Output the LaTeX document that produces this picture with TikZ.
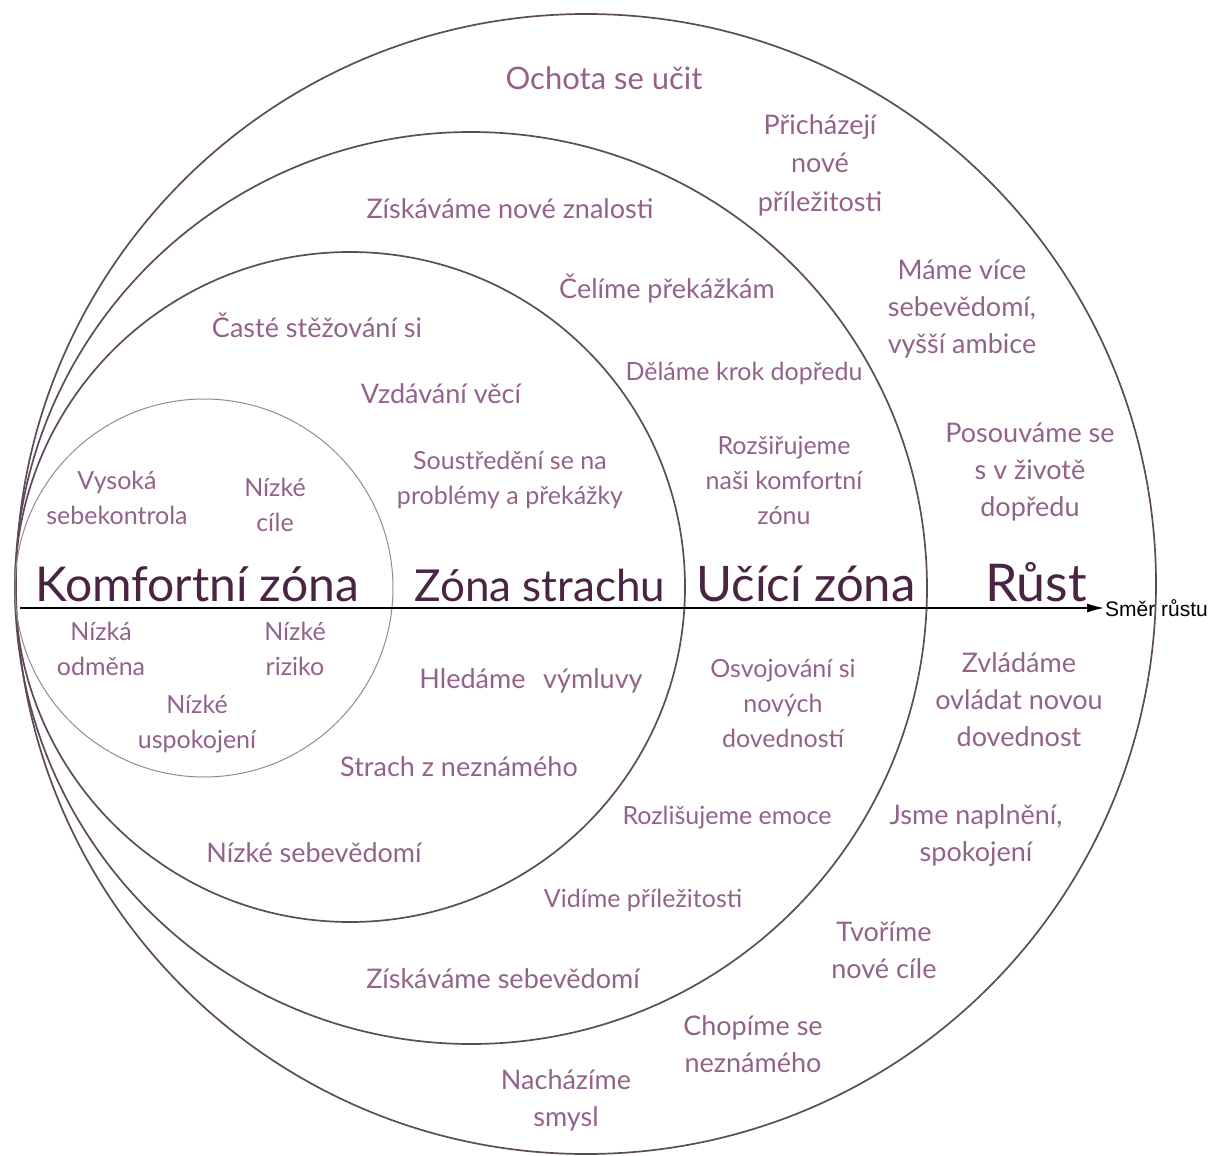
\documentclass[tikz,border=0pt]{standalone}
\usepackage{fontspec}
\setmainfont{Lato}
\newfontfamily\arialfont{Liberation Sans}
\usetikzlibrary{arrows.meta, positioning}
\definecolor{zmauve}{HTML}{93628B}
\definecolor{zdark}{HTML}{4A2443}
\definecolor{zring}{HTML}{5E4A5B}
\definecolor{zlight}{HTML}{958A92}

\begin{document}
\begin{tikzpicture}[
  x=1pt, y=-1pt,
  ring/.style={draw=zring, line width=1.7pt},
  innerring/.style={draw=zlight, line width=1pt},
  lbl/.style={text=zmauve, align=center, font=\fontsize{27}{37}\selectfont, inner sep=0pt},
  lblsmall/.style={lbl, font=\fontsize{25}{35}\selectfont},
  zone/.style={text=zdark, font=\fontsize{#1}{#1}\selectfont, inner sep=0pt, anchor=base},
  arrow/.style={-{Latex[length=17pt, width=9pt]}, line width=1.3pt, black},
]
\useasboundingbox (0,0) rectangle (1210,1156);

% zones, all touching on the left
\draw[ring] (586,584) circle (570pt);
\draw[ring] (471,588) circle (456pt);
\draw[ring] (350,587) circle (335pt);
\draw[innerring] (204,588) circle (189pt);

% zone titles
\node[zone=48] (komfort) at (197,601) {Komfortní zóna};
\node[zone=44] (strach) at (540,601) {Zóna strachu};
\node[zone=49] (uceni) at (806,601) {Učící zóna};
\node[zone=52] (rust) at (1036,601) {Růst};

% direction of growth
\coordinate (start) at (20,608);
\node[font=\arialfont\fontsize{21}{25}\selectfont, anchor=west, inner sep=1pt] (smer) at (1104,608) {Směr růstu};
\draw[arrow] (start) -- (smer.west);

% comfort zone
\node[lblsmall] (vysoka) at (117,498) {Vysoká\\sebekontrola};
\node[lblsmall] (cile) at (275,505) {Nízké\\cíle};
\node[lblsmall] (odmena) at (101,649) {Nízká\\odměna};
\node[lblsmall] (riziko) at (295,649) {Nízké\\riziko};
\node[lblsmall] (uspokojeni) at (197,724) {Nízké\\uspokojení};

% fear zone
\node[lbl] (stezovani) at (317,325) {Časté stěžování si};
\node[lbl] (vzdavani) at (441,394) {Vzdávání věcí};
\node[lblsmall] (soustredeni) at (510,480) {Soustředění se na\\problémy a překážky};
\node[lbl] (vymluvy) at (531,681) {Hledáme\hspace{0.4em} výmluvy};
\node[lbl] (neznamo) at (459,767) {Strach z neznámého};
\node[lbl] (sebevedomi) at (314,853) {Nízké sebevědomí};

% learning zone
\node[lbl] (znalosti) at (510,209) {Získáváme nové znalosti};
\node[lbl] (prekazky) at (667,289) {Čelíme překážkám};
\node[lblsmall] (krok) at (744,373) {Děláme krok dopředu};
\node[lblsmall] (rozsirujeme) at (784,480) {Rozšiřujeme\\naši komfortní\\zónu};
\node[lblsmall] (osvojovani) at (783,703) {Osvojování si\\nových\\dovedností};
\node[lblsmall] (emoce) at (727,818) {Rozlišujeme emoce};
\node[lblsmall] (prilezitosti) at (643,900) {Vidíme příležitosti};
\node[lbl] (ziskavame) at (503,979) {Získáváme sebevědomí};

% growth zone
\node[lbl, font=\fontsize{31}{38}\selectfont] (ochota) at (604,78) {Ochota se učit};
\node[lbl, font=\fontsize{27}{38.5}\selectfont] (prichazeji) at (820,165) {Přicházejí\\nové\\příležitosti};
\node[lbl] (ambice) at (962,309) {Máme více\\sebevědomí,\\vyšší ambice};
\node[lbl] (posouvame) at (1030,472) {Posouváme se\\s v životě\\dopředu};
\node[lbl] (zvladame) at (1019,700) {Zvládáme\\ovládat novou\\dovednost};
\node[lbl] (naplneni) at (976,836) {Jsme naplnění,\\spokojení};
\node[lbl] (tvorime) at (884,950) {Tvoříme\\nové cíle};
\node[lbl] (chopime) at (753,1044) {Chopíme se\\neznámého};
\node[lbl] (smysl) at (566,1100) {Nacházíme\\smysl};

\end{tikzpicture}
\end{document}
